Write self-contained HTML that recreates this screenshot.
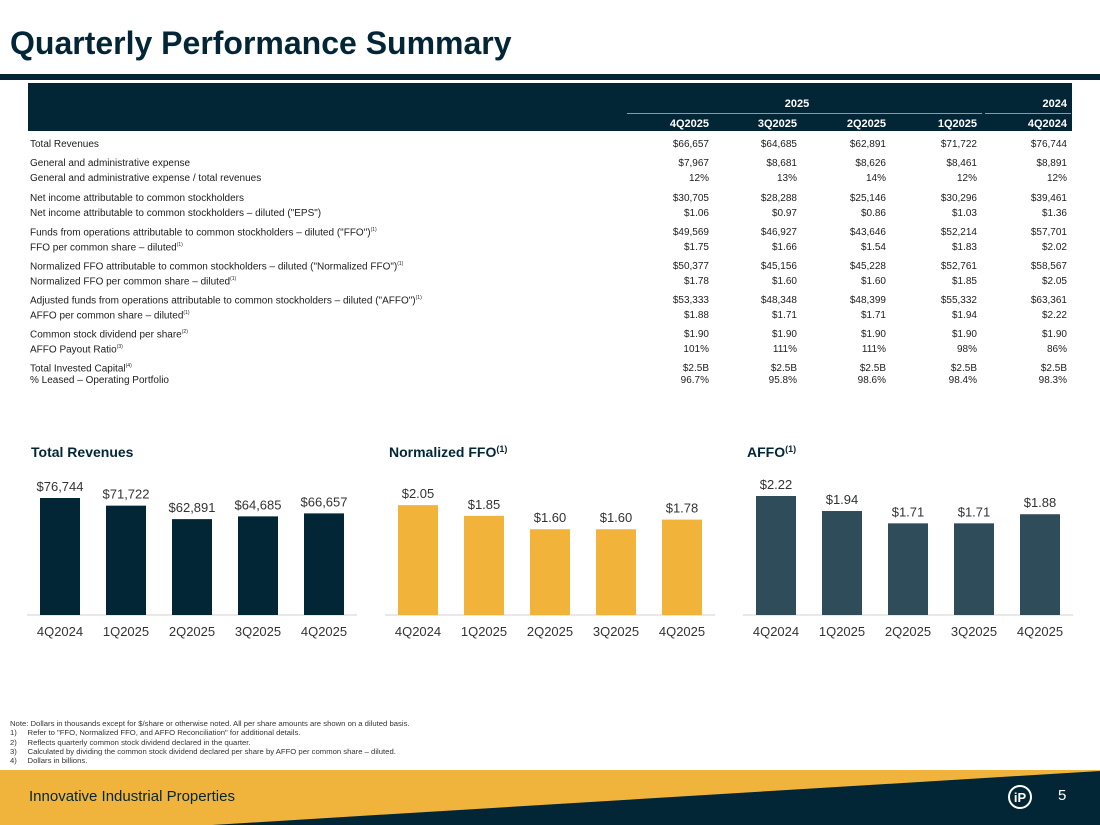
<!DOCTYPE html>
<html><head><meta charset="utf-8"><style>
body{margin:0;width:1100px;height:825px;position:relative;overflow:hidden;background:#fff;font-family:"Liberation Sans",sans-serif;color:#1d1d1d}
.a{position:absolute;white-space:nowrap}
.lab{font-size:10px;left:30px}
.val{font-size:10px;text-align:right;width:90px}
.hd{font-size:11px;font-weight:bold;color:#fff;text-align:right;width:90px}
sup{font-size:5px}
</style></head><body>
<div class="a" style="left:10px;top:25px;font-size:32px;font-weight:bold;color:#022635;letter-spacing:0px">Quarterly Performance Summary</div>
<div class="a" style="left:0;top:74px;width:1100px;height:6px;background:#022635"></div>
<div class="a" style="left:28px;top:83px;width:1044px;height:48px;background:#022635"></div>
<div class="a hd" style="left:752px;top:98px;width:90px;text-align:center">2025</div>
<div class="a" style="left:627px;top:113px;width:355px;height:1px;background:#8a9aa3"></div>
<div class="a hd" style="left:977px;top:98px">2024</div>
<div class="a" style="left:985px;top:113px;width:86px;height:1px;background:#8a9aa3"></div>
<div id="tbl"></div>
<svg id="charts" class="a" style="left:0;top:0" width="1100" height="700"></svg>
<div class="a" style="left:10px;top:719px;font-size:7.7px;line-height:9.3px;color:#333">Note: Dollars in thousands except for $/share or otherwise noted. All per share amounts are shown on a diluted basis.<br>1)&nbsp;&nbsp;&nbsp;&nbsp;&nbsp;Refer to "FFO, Normalized FFO, and AFFO Reconciliation" for additional details.<br>2)&nbsp;&nbsp;&nbsp;&nbsp;&nbsp;Reflects quarterly common stock dividend declared in the quarter.<br>3)&nbsp;&nbsp;&nbsp;&nbsp;&nbsp;Calculated by dividing the common stock dividend declared per share by AFFO per common share – diluted.<br>4)&nbsp;&nbsp;&nbsp;&nbsp;&nbsp;Dollars in billions.</div>
<svg class="a" style="left:0;top:770px" width="1100" height="55">
<rect x="0" y="0" width="1100" height="55" fill="#f0b43c"/>
<polygon points="212,55 1100,1 1100,55" fill="#022635"/>
<circle cx="1020" cy="27" r="11" fill="none" stroke="#fff" stroke-width="2"/>
<text x="1020" y="32" fill="#fff" font-size="13" font-weight="bold" text-anchor="middle" font-family="Liberation Sans">iP</text>
</svg>
<div class="a" style="left:29px;top:788px;font-size:15px;color:#022635">Innovative Industrial Properties</div>
<div class="a" style="left:1058px;top:787px;font-size:15px;color:#fff">5</div>
<script>
const colHeads=["4Q2025","3Q2025","2Q2025","1Q2025","4Q2024"];
const rowLabels=["Total Revenues","General and administrative expense","General and administrative expense / total revenues","Net income attributable to common stockholders","Net income attributable to common stockholders – diluted (\"EPS\")","Funds from operations attributable to common stockholders – diluted (\"FFO\")<sup>(1)</sup>","FFO per common share – diluted<sup>(1)</sup>","Normalized FFO attributable to common stockholders – diluted (\"Normalized FFO\")<sup>(1)</sup>","Normalized FFO per common share – diluted<sup>(1)</sup>","Adjusted funds from operations attributable to common stockholders – diluted (\"AFFO\")<sup>(1)</sup>","AFFO per common share – diluted<sup>(1)</sup>","Common stock dividend per share<sup>(2)</sup>","AFFO Payout Ratio<sup>(3)</sup>","Total Invested Capital<sup>(4)</sup>","% Leased – Operating Portfolio"];
const rowValues=[["$66,657","$64,685","$62,891","$71,722","$76,744"],["$7,967","$8,681","$8,626","$8,461","$8,891"],["12%","13%","14%","12%","12%"],["$30,705","$28,288","$25,146","$30,296","$39,461"],["$1.06","$0.97","$0.86","$1.03","$1.36"],["$49,569","$46,927","$43,646","$52,214","$57,701"],["$1.75","$1.66","$1.54","$1.83","$2.02"],["$50,377","$45,156","$45,228","$52,761","$58,567"],["$1.78","$1.60","$1.60","$1.85","$2.05"],["$53,333","$48,348","$48,399","$55,332","$63,361"],["$1.88","$1.71","$1.71","$1.94","$2.22"],["$1.90","$1.90","$1.90","$1.90","$1.90"],["101%","111%","111%","98%","86%"],["$2.5B","$2.5B","$2.5B","$2.5B","$2.5B"],["96.7%","95.8%","98.6%","98.4%","98.3%"]];
const rowY=[139,158,173,193,208,227,242,261,276,295,310,329,344,363,375];
const colRight=[709,797,886,977,1067];
const tbl=document.getElementById('tbl');
colHeads.forEach((h,i)=>{const d=document.createElement('div');d.className='a hd';d.style.left=(colRight[i]-90)+'px';d.style.top='118px';d.textContent=h;


tbl.appendChild(d);});
rowLabels.forEach((l,r)=>{const d=document.createElement('div');d.className='a lab';d.style.top=rowY[r]+'px';d.innerHTML=l;


tbl.appendChild(d);
rowValues[r].forEach((v,i)=>{const c=document.createElement('div');c.className='a val';c.style.left=(colRight[i]-90)+'px';c.style.top=rowY[r]+'px';c.textContent=v;


tbl.appendChild(c);});});

const quarters=["4Q2024","1Q2025","2Q2025","3Q2025","4Q2025"];
const revenues=[76744,71722,62891,64685,66657];
const revLabels=["$76,744","$71,722","$62,891","$64,685","$66,657"];
const nffo=[2.05,1.85,1.60,1.60,1.78];
const nffoLabels=["$2.05","$1.85","$1.60","$1.60","$1.78"];
const affo=[2.22,1.94,1.71,1.71,1.88];
const affoLabels=["$2.22","$1.94","$1.71","$1.71","$1.88"];
const NS='http://www.w3.org/2000/svg';
const svg=document.getElementById('charts');
function el(t,a){const e=document.createElementNS(NS,t);for(const k in a)e.setAttribute(k,a[k]);svg.appendChild(e);return e;}
function chart(x0,title,vals,labels,pxPer,color,name){
  const base=615;
  const t=el('text',{x:x0+4,y:457,'font-size':14,'font-weight':'bold',fill:'#022635','font-family':'Liberation Sans'});
  t.innerHTML=title;
  
  
  const ax=el('line',{x1:x0,x2:x0+330,y1:base,y2:base,stroke:'#d0d0d0','stroke-width':1});
  
  
  vals.forEach((v,i)=>{
    const cx=x0+33+i*66, h=v*pxPer;
    const b=el('rect',{x:cx-20,y:base-h,width:40,height:h,fill:color});
    
    
    const l=el('text',{x:cx,y:base-h-7,'font-size':13,fill:'#333','text-anchor':'middle','font-family':'Liberation Sans'});
    l.textContent=labels[i];
    
    
    const q=el('text',{x:cx,y:636,'font-size':13,fill:'#333','text-anchor':'middle','font-family':'Liberation Sans'});
    q.textContent=quarters[i];
    
    
  });
}
chart(27,'Total Revenues',revenues,revLabels,117/76744,'#022635','revenue');
chart(385,'Normalized FFO<tspan font-size="9" dy="-5">(1)</tspan>',nffo,nffoLabels,53.6,'#f2b33a','nffo');
chart(743,'AFFO<tspan font-size="9" dy="-5">(1)</tspan>',affo,affoLabels,53.6,'#2f4c5a','affo');
</script>
</body></html>
